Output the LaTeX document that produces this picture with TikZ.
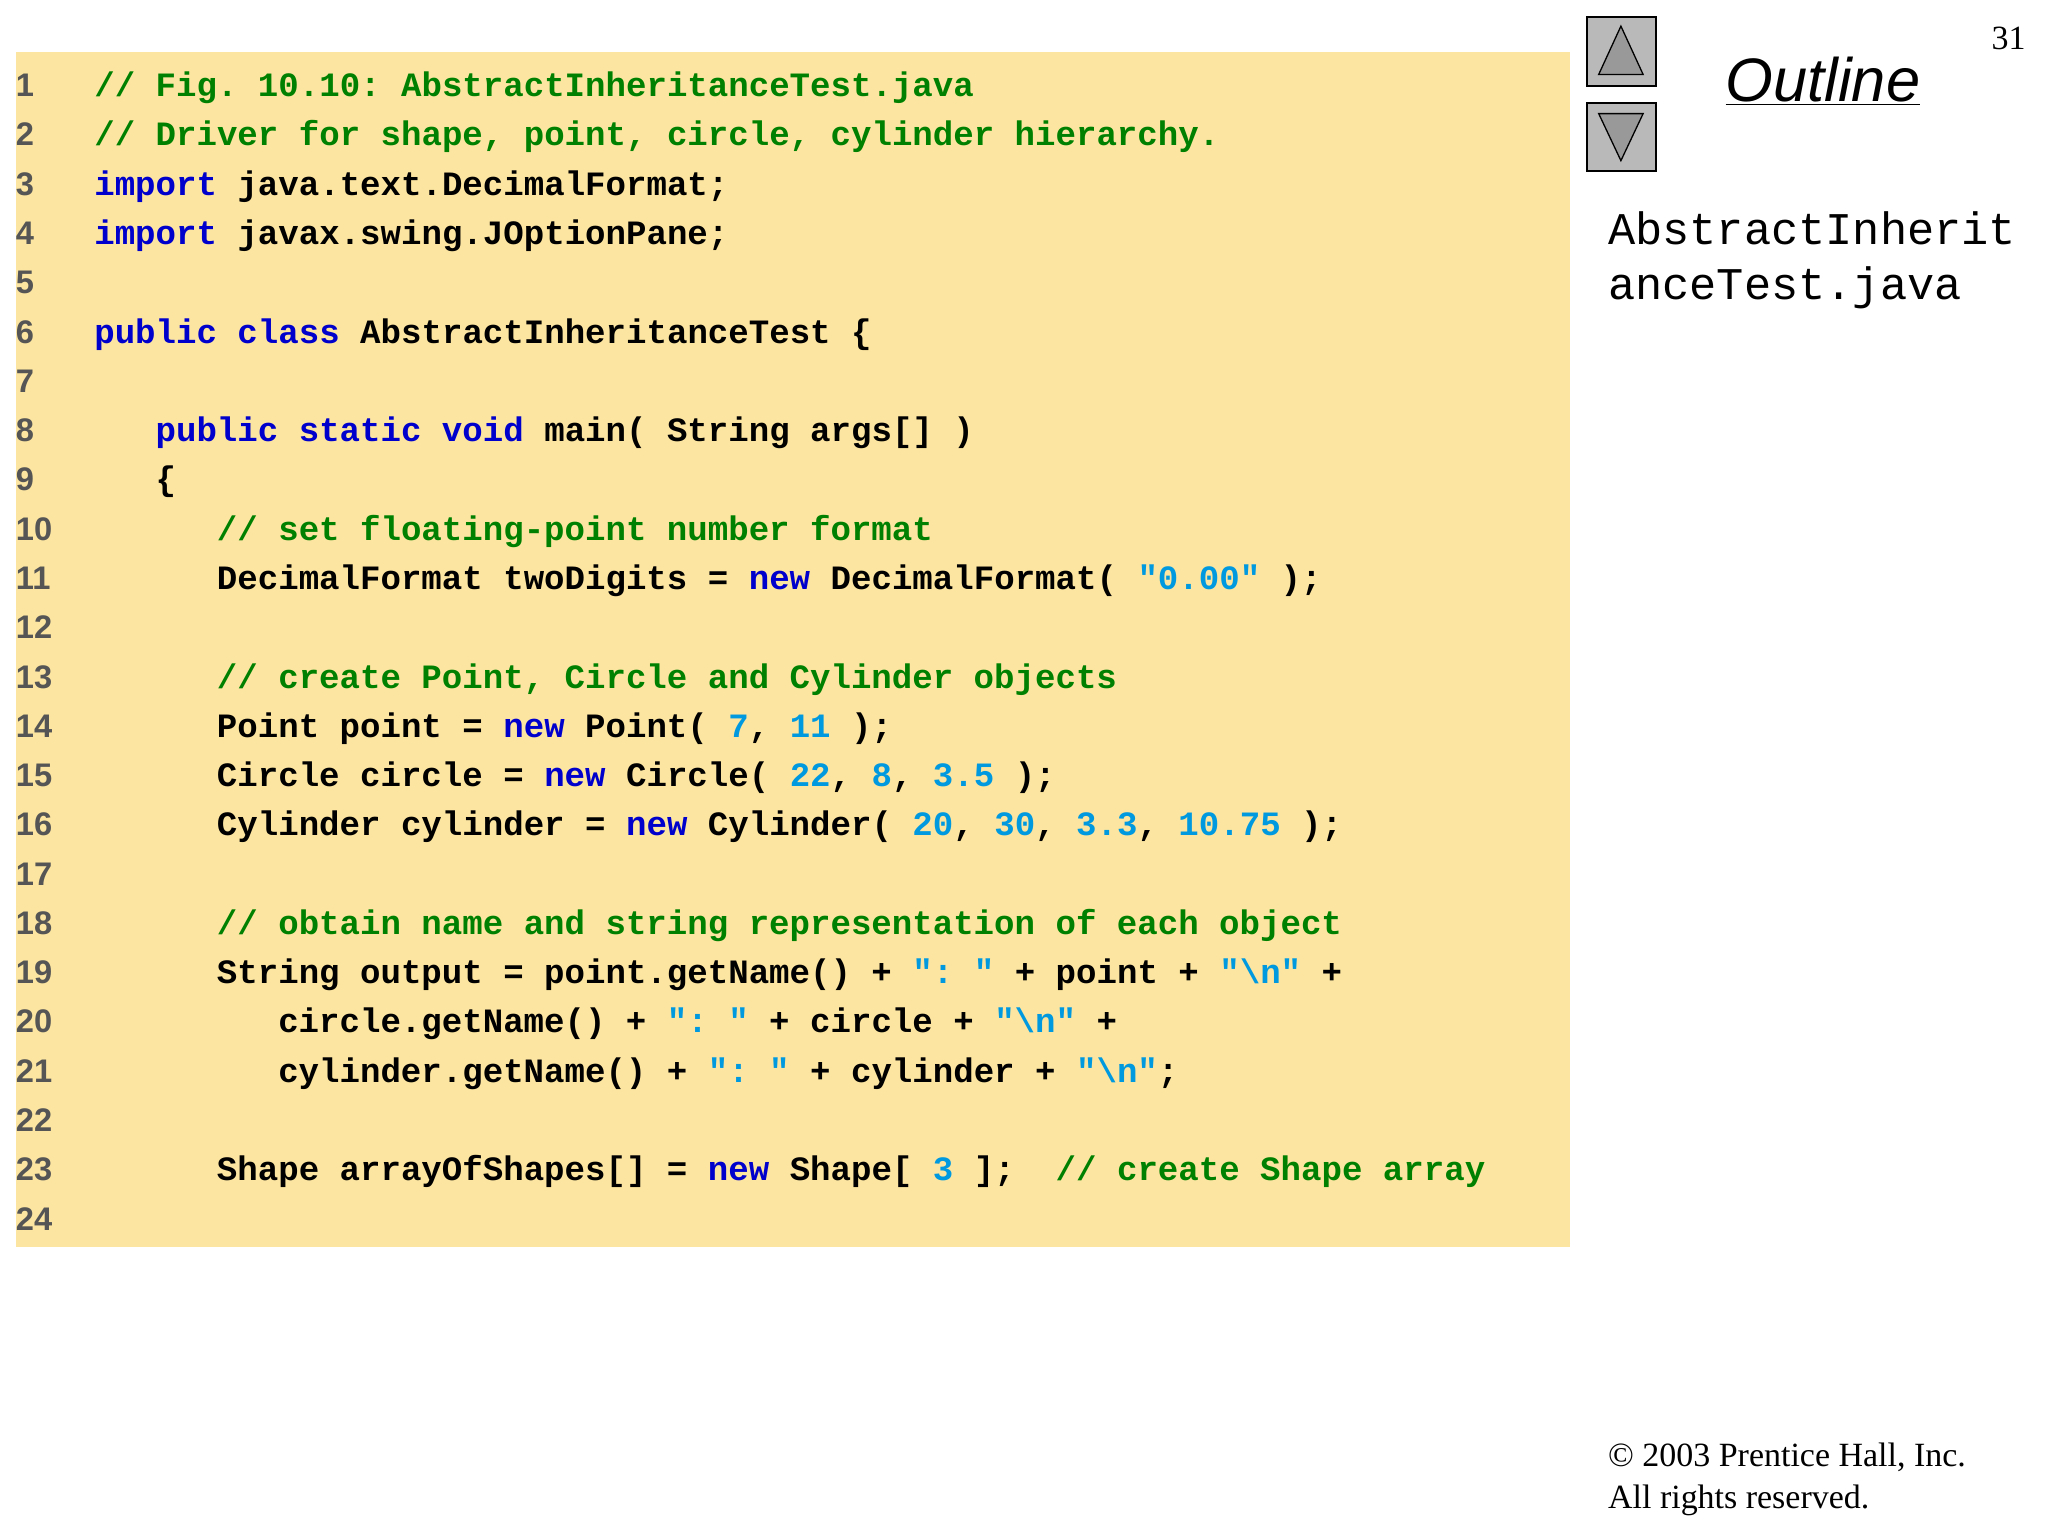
\documentclass[tikz,border=0pt]{standalone}
\usepackage{fontspec}
\setmainfont{Liberation Serif}
\setsansfont{Liberation Sans}
\setmonofont{Liberation Mono}
\definecolor{bg}{HTML}{FCE5A0}
\definecolor{kwc}{HTML}{0000CC}
\definecolor{cmc}{HTML}{008000}
\definecolor{nmc}{HTML}{0099E0}
\definecolor{numc}{HTML}{555555}
\newcommand{\kw}[1]{\textcolor{kwc}{#1}}
\newcommand{\cm}[1]{\textcolor{cmc}{#1}}
\newcommand{\nm}[1]{\textcolor{nmc}{#1}}
\newcommand{\bsl}{\textbackslash}
\begin{document}
\begin{tikzpicture}[x=1pt,y=-1pt,
  code/.style={anchor=base west,inner sep=0pt,font=\ttfamily\bfseries\fontsize{26.1}{30}\selectfont},
  lnum/.style={anchor=base west,inner sep=0pt,text=numc,font=\sffamily\bfseries\fontsize{25}{28}\selectfont},
  side/.style={anchor=base west,inner sep=0pt,font=\ttfamily\fontsize{34.7}{44}\selectfont},
  copy/.style={anchor=base west,inner sep=0pt,font=\fontsize{26}{32}\selectfont},
  btn/.style={draw=black,fill=gray!55,line width=1.5pt}]
\useasboundingbox (0,0) rectangle (1568,1176);
\fill[bg] (12,40) rectangle (1202,955);
\foreach \i in {1,...,24}{
  \node[lnum] (n\i) at (12,{65+(\i-1)*37.73+9}) {\i};
}
\def\L#1#2#3{\node[code] (c#1) at ({72+#2*15.65},{65+(#1-1)*37.73+9}) {#3};}
\L{1}{0}{\cm{// Fig. 10.10: AbstractInheritanceTest.java}}
\L{2}{0}{\cm{// Driver for shape, point, circle, cylinder hierarchy.}}
\L{3}{0}{\kw{import} java.text.DecimalFormat;}
\L{4}{0}{\kw{import} javax.swing.JOptionPane;}
\L{6}{0}{\kw{public class} AbstractInheritanceTest \{}
\L{8}{3}{\kw{public static void} main( String args[] )}
\L{9}{3}{\{}
\L{10}{6}{\cm{// set floating-point number format}}
\L{11}{6}{DecimalFormat twoDigits = \kw{new} DecimalFormat( \nm{"0.00"} );}
\L{13}{6}{\cm{// create Point, Circle and Cylinder objects}}
\L{14}{6}{Point point = \kw{new} Point( \nm{7}, \nm{11} );}
\L{15}{6}{Circle circle = \kw{new} Circle( \nm{22}, \nm{8}, \nm{3.5} );}
\L{16}{6}{Cylinder cylinder = \kw{new} Cylinder( \nm{20}, \nm{30}, \nm{3.3}, \nm{10.75} );}
\L{18}{6}{\cm{// obtain name and string representation of each object}}
\L{19}{6}{String output = point.getName() + \nm{": "} + point + \nm{"\bsl n"} +}
\L{20}{9}{circle.getName() + \nm{": "} + circle + \nm{"\bsl n"} +}
\L{21}{9}{cylinder.getName() + \nm{": "} + cylinder + \nm{"\bsl n"};}
\L{23}{6}{Shape arrayOfShapes[] = \kw{new} Shape[ \nm{3} ];\ \ \cm{// create Shape array}}
% buttons
\draw[btn] (1215,13) rectangle (1268,66);
\draw[btn] (1215,79) rectangle (1268,131);
\draw[fill=gray!80,line width=1pt] (1241,20) -- (1258,57) -- (1224,57) -- cycle;
\draw[fill=gray!80,line width=1pt] (1224,87) -- (1258,87) -- (1241,123) -- cycle;
\node[anchor=base west,inner sep=0pt,font=\sffamily\itshape\fontsize{47}{52}\selectfont] (outl) at (1321,78) {\underline{Outline}};
\node[anchor=base east,inner sep=0pt,font=\fontsize{26}{30}\selectfont] (pg) at (1551,38) {31};
\node[side] (fn1) at (1231,187) {AbstractInherit};
\node[side] (fn2) at (1231,229) {anceTest.java};
\node[copy] (cp1) at (1231,1123) {© 2003 Prentice Hall, Inc.};
\node[copy] (cp2) at (1231,1155) {All rights reserved.};
\end{tikzpicture}
\end{document}
